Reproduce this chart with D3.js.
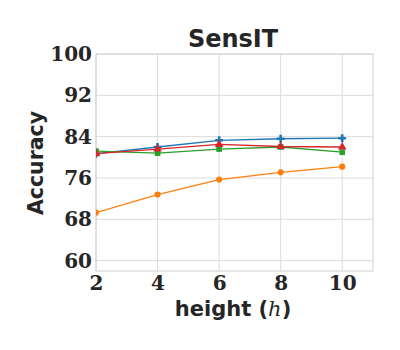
<!DOCTYPE html>
<html>
<head>
<meta charset="utf-8">
<script src="https://cdn.jsdelivr.net/npm/d3@7"></script>
<style>
    body { margin: 0; background: #fff; }
</style>
</head>
<body>
<div id="chart-area"></div>
<script>
/*
 *    SensIT accuracy vs height
 */

var heights = [2, 4, 6, 8, 10];
var yTicks = [60, 68, 76, 84, 92, 100];
var xTicks = [2, 4, 6, 8, 10];

var blueVals = [80.7, 82.0, 83.3, 83.6, 83.7];
var orangeVals = [69.3, 72.8, 75.7, 77.1, 78.2];
var greenVals = [81.2, 80.8, 81.6, 82.0, 81.0];
var redVals = [80.7, 81.6, 82.5, 82.1, 82.0];

const margin = {
    top: 54,
    right: 27,
    bottom: 79,
    left: 96
};
const width = 400 - margin.left - margin.right;
const height = 350 - margin.top - margin.bottom;

const svg = d3.select("#chart-area")
    .append("svg")
    .attr("width", 400)
    .attr("height", 350);

const g = svg.append("g")
    .attr("transform", "translate(" + margin.left + ", " + margin.top + ")");

const x = d3.scaleLinear().domain([2, 11]).range([0, width]);
const y = d3.scaleLinear().domain([58, 100]).range([height, 0]);

svg.append("defs").append("clipPath")
    .attr("id", "plot-clip")
    .append("rect")
    .attr("width", width)
    .attr("height", height);

/** Grid */
g.selectAll(".xgrid").data(xTicks).enter()
    .append("line")
    .attr("x1", d => x(d)).attr("x2", d => x(d))
    .attr("y1", 0).attr("y2", height)
    .attr("stroke", "#dcdcdc").attr("stroke-width", 1);

g.selectAll(".ygrid").data(yTicks).enter()
    .append("line")
    .attr("x1", 0).attr("x2", width)
    .attr("y1", d => y(d)).attr("y2", d => y(d))
    .attr("stroke", "#dcdcdc").attr("stroke-width", 1);

g.append("rect")
    .attr("width", width)
    .attr("height", height)
    .attr("fill", "none")
    .attr("stroke", "#d0d0d0")
    .attr("stroke-width", 1);

/** Axes */
const bottomAxis = d3.axisBottom(x).tickValues(xTicks).tickSize(0).tickPadding(5);
const leftAxis = d3.axisLeft(y).tickValues(yTicks).tickSize(0).tickPadding(4);

g.append("g")
    .attr("class", "bottom axis")
    .attr("transform", "translate(0, " + height + ")")
    .call(bottomAxis)
    .call(a => a.select(".domain").remove())
    .selectAll("text")
    .attr("font-family", "DejaVu Serif")
    .attr("font-weight", "bold")
    .attr("font-size", "20px")
    .style("fill", "#262626");

g.append("g")
    .attr("class", "left axis")
    .call(leftAxis)
    .call(a => a.select(".domain").remove())
    .selectAll("text")
    .attr("font-family", "DejaVu Serif")
    .attr("font-weight", "bold")
    .attr("font-size", "20px")
    .style("fill", "#262626");

/** Labels */
svg.append("text")
    .attr("x", 233)
    .attr("y", 47)
    .attr("text-anchor", "middle")
    .attr("font-family", "DejaVu Sans")
    .attr("font-weight", "bold")
    .attr("font-size", "24px")
    .style("fill", "#262626")
    .text("SensIT");

svg.append("text")
    .attr("transform", "translate(43, 163) rotate(-90)")
    .attr("text-anchor", "middle")
    .attr("font-family", "DejaVu Sans")
    .attr("font-weight", "bold")
    .attr("font-size", "20.5px")
    .style("fill", "#262626")
    .text("Accuracy");

const xl = svg.append("text")
    .attr("x", 233)
    .attr("y", 316)
    .attr("text-anchor", "middle")
    .attr("font-family", "DejaVu Sans")
    .attr("font-weight", "bold")
    .attr("font-size", "21px")
    .style("fill", "#262626");
xl.append("tspan").text("height (");
xl.append("tspan").attr("font-family", "DejaVu Serif").attr("font-style", "italic").attr("font-weight", "normal").text("h");
xl.append("tspan").text(")");

/** Data Render */
var series = [
    { vals: blueVals, color: "#1f77b4", sym: d3.symbolCross, size: 34 },
    { vals: orangeVals, color: "#ff7f0e", sym: d3.symbolCircle, size: 30 },
    { vals: greenVals, color: "#2ca02c", sym: d3.symbolSquare, size: 32 },
    { vals: redVals, color: "#d62728", sym: d3.symbolTriangle, size: 32 }
];

const line = d3.line()
    .x((d, i) => x(heights[i]))
    .y(d => y(d));

const plot = g.append("g").attr("clip-path", "url(#plot-clip)");

series.forEach(s => {
    plot.append("path")
        .attr("d", line(s.vals))
        .attr("fill", "none")
        .attr("stroke", s.color)
        .attr("stroke-width", 1.3);

    plot.selectAll(null).data(s.vals).enter()
        .append("path")
        .attr("transform", (d, i) => "translate(" + x(heights[i]) + "," + y(d) + ")")
        .attr("d", d3.symbol().type(s.sym).size(s.size))
        .attr("fill", s.color);
});
</script>
</body>
</html>
